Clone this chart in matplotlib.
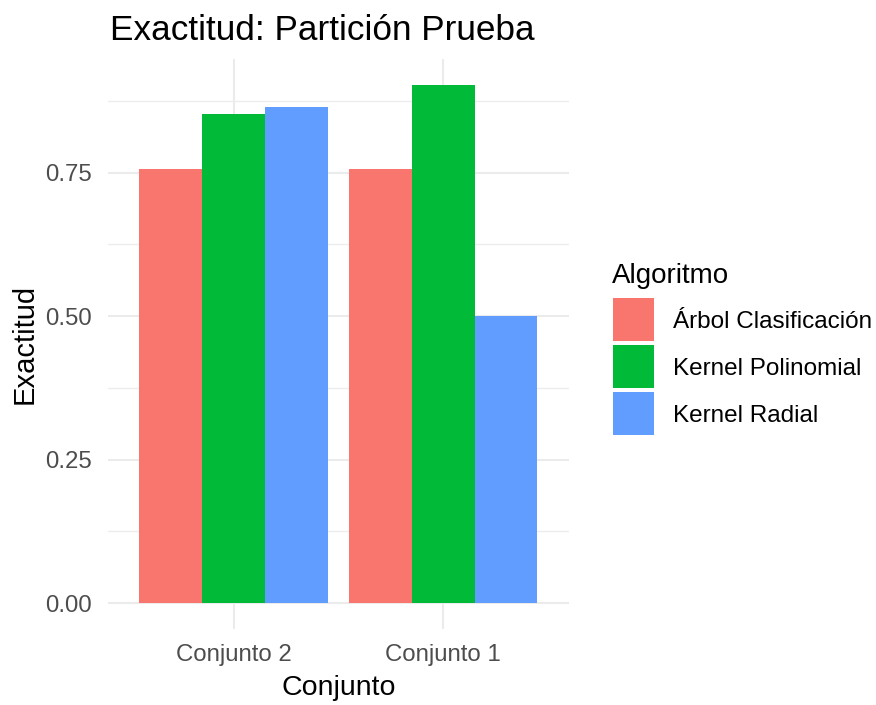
import numpy as np
import matplotlib.pyplot as plt
from matplotlib.patches import Rectangle

plt.rcParams['font.family'] = ['Liberation Sans', 'DejaVu Sans']

conjuntos = ["Conjunto 2", "Conjunto 1"]
algoritmos = ["Árbol Clasificación", "Kernel Polinomial", "Kernel Radial"]
arbol = [0.756, 0.756]
polinomial = [0.852, 0.903]
radial = [0.865, 0.500]
colores = ["#F8766D", "#00BA38", "#619CFF"]

valores = [arbol, polinomial, radial]

W, H = 876, 705
fig = plt.figure(figsize=(W / 100, H / 100), dpi=100)
ax = fig.add_axes([0.123, 0.1078, 0.5264, 0.8085])

x = np.arange(1, len(conjuntos) + 1)
w = 0.3
for i, serie in enumerate(valores):
    ax.bar(x + (i - 1) * w, serie, width=w, color=colores[i], linewidth=0, zorder=2)

ymax = max(max(s) for s in valores)
ax.set_ylim(-0.05 * ymax, ymax * 1.05)
ax.set_xlim(0.4, 2.6)

ax.set_yticks([0, 0.25, 0.5, 0.75])
ax.set_yticklabels(["0.00", "0.25", "0.50", "0.75"])
ax.set_yticks([0.125, 0.375, 0.625, 0.875], minor=True)
ax.set_xticks(x)
ax.set_xticklabels(conjuntos)

ax.grid(True, which='major', color='#EBEBEB', linewidth=1.5, zorder=0)
ax.grid(True, which='minor', axis='y', color='#EDEDED', linewidth=1.0, zorder=0)
for s in ax.spines.values():
    s.set_visible(False)
ax.tick_params(axis='both', which='both', length=0, labelsize=17.3, labelcolor='#4D4D4D')
ax.tick_params(axis='x', pad=11)
ax.tick_params(axis='y', pad=11.3)

ax.set_xlabel("Conjunto", fontsize=20.5, labelpad=6)
ax.set_ylabel("Exactitud", fontsize=21, labelpad=4.6)
fig.text(110 / W, 1 - 39.5 / H, "Exactitud: Partición Prueba", fontsize=25.3, ha='left', va='baseline')

# leyenda a mano (estilo ggplot)
fig.text(611.7 / W, 1 - 283 / H, "Algoritmo", fontsize=20, ha='left', va='baseline')
tops = [298.3, 345.0, 391.7]
for i in range(len(algoritmos)):
    fig.add_artist(Rectangle((612.7 / W, 1 - (tops[i] + 43) / H), 41.3 / W, 43 / H,
                             transform=fig.transFigure, facecolor=colores[i], edgecolor='none'))
    fig.text(672.7 / W, 1 - (tops[i] + 21.5) / H, algoritmos[i], fontsize=17.5,
             ha='left', va='center_baseline')

fig.savefig("out.png", dpi=100)
